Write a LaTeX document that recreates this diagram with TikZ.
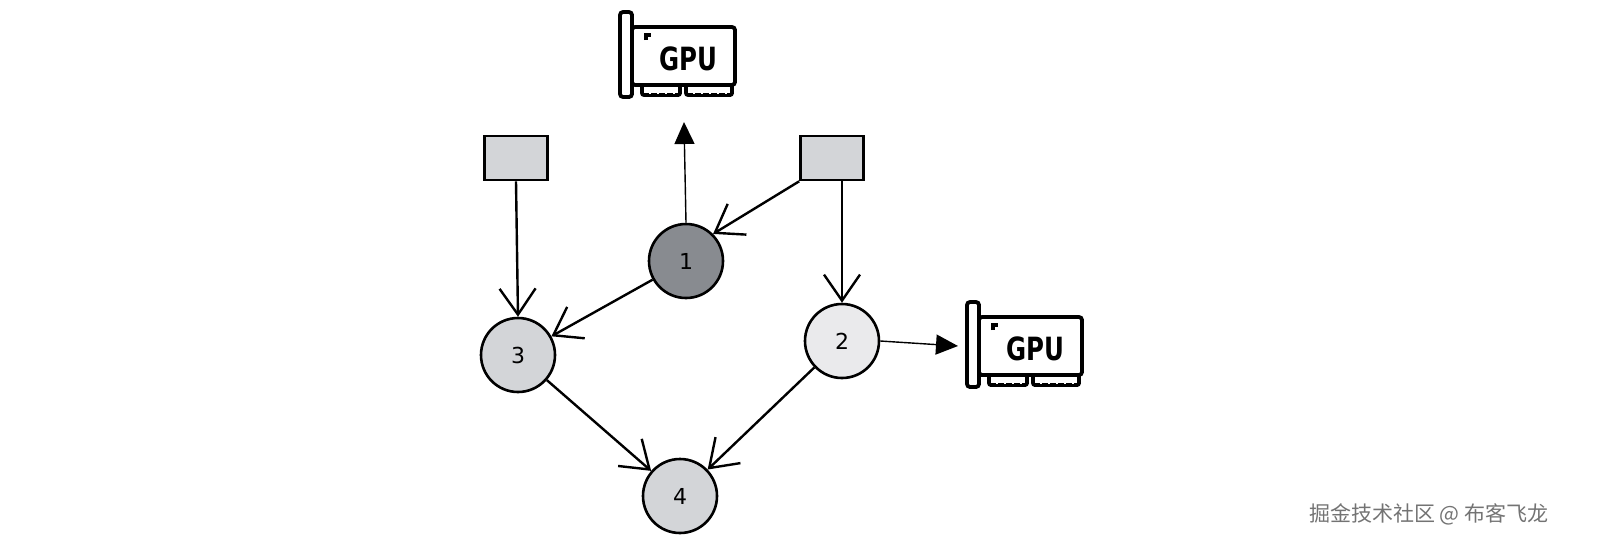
\documentclass[tikz,border=0pt]{standalone}
\usepackage{fontspec}
\setmainfont{DejaVu Sans}
\newfontfamily\cjk{Noto Sans CJK SC}
\newfontfamily\cond{DejaVu Sans Condensed}
\usetikzlibrary{arrows.meta}
\definecolor{dk}{HTML}{888B90}
\definecolor{lt}{HTML}{EAEAEC}
\definecolor{md}{HTML}{D3D5D8}
\tikzset{
  n/.style={circle,draw,line width=2.6pt,minimum size=74pt,inner sep=0pt,font=\fontsize{22}{22}\selectfont},
  box/.style={draw,line width=2.6pt,fill=md,minimum width=63pt,minimum height=44pt},
  oa/.style={line width=2.4pt,-{Straight Barb[length=26pt,width=36pt,line width=2.4pt]}},
  fa/.style={line width=1.4pt,-{Triangle[length=22pt,width=20pt]}},
  gpu/.pic={
    \draw[line width=3.8pt,rounded corners=3pt] (-66,-45) rectangle (-54,40);
    \draw[line width=3.8pt,rounded corners=3pt] (-54,-30) rectangle (49,28);
    \draw[line width=3.8pt] (-66,-28) -- (-66,-10) (-66,0)--(-66,20);
    \draw[line width=3.8pt] (-40,-17)--(-40,-22)--(-35,-22);
    \draw[line width=3.8pt,rounded corners=2pt] (-44,28) rectangle (-6,38) (0,28) rectangle (46,38);
    \foreach \x in {-36,-28,-20,-12,8,16,24,32,40} \draw[line width=2pt,white] (\x,30)--(\x,36.5);
    \node[font=\cond\bfseries\fontsize{32}{32}\selectfont,xscale=0.85] at (2,2) {GPU};
  }
}
\begin{document}
\begin{tikzpicture}[x=1pt,y=-1pt]
\pic at (686,57) {gpu};
\pic at (1033,347) {gpu};
\coordinate (g1) at (684,122);
\coordinate (g2) at (958,346);
\node[box] (r1) at (516,158) {};
\node[box] (r2) at (832,158) {};
\node[n,fill=dk] (c1) at (686,261) {1};
\node[n,fill=lt] (c2) at (842,341) {2};
\node[n,fill=md] (c3) at (518,355) {3};
\node[n,fill=md] (c4) at (680,496) {4};
\draw[oa] (r1.south) -- (c3.north);
\draw[oa] (r2.south west) -- (c1.north east);
\draw[oa] (r2.south -| c2.north) -- (c2.north);
\draw[oa] (c1) -- (c3);
\draw[oa] (c3) -- (c4);
\draw[oa] (c2) -- (c4);
\draw[fa] (c1.north) -- (g1);
\draw[fa] (c2.east) -- (g2);
\node[font=\cjk\fontsize{21}{21}\selectfont,text=black!55,anchor=east] at (1552,514) {掘金技术社区 @ 布客飞龙};
\pgfresetboundingbox
\path[use as bounding box] (0,0) rectangle (1607,558);
\end{tikzpicture}
\end{document}
